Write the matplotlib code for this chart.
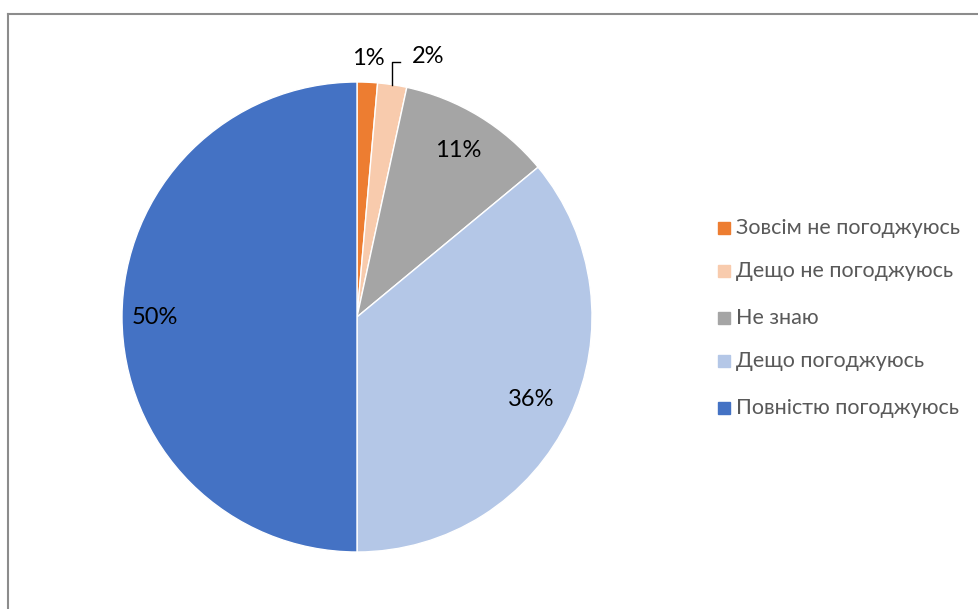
import numpy as np
import matplotlib
matplotlib.use("Agg")
import matplotlib.pyplot as plt
from matplotlib.patches import Rectangle
from matplotlib.lines import Line2D

categories = ["Зовсім не погоджуюсь", "Дещо не погоджуюсь", "Не знаю",
              "Дещо погоджуюсь", "Повністю погоджуюсь"]
shares = [1.4, 2.0, 10.6, 36.0, 50.0]
colors = ["#ED7D31", "#F8CBAD", "#A5A5A5", "#B4C7E7", "#4472C4"]

plt.rcParams["font.family"] = ["Lato", "DejaVu Sans"]

W, H = 979, 609
fig = plt.figure(figsize=(W / 100, H / 100), dpi=100)
ax = fig.add_axes([0, 0, 1, 1])

cx, cy, R = 357, H - 317, 235
wedges, _ = ax.pie(shares, colors=colors, startangle=90, counterclock=False,
                   center=(cx, cy), radius=R, frame=True,
                   wedgeprops=dict(edgecolor="white", linewidth=1.0))
ax.set_xlim(0, W)
ax.set_ylim(0, H)
ax.set_aspect("equal")
ax.axis("off")

# chart frame (top and left edges visible)
ax.add_line(Line2D([8, W], [H - 14, H - 14], color="#8c8c8c", lw=1.5))
ax.add_line(Line2D([8, 8], [H - 14, 0], color="#8c8c8c", lw=1.5))

# percentage labels
label_r = [1.10, None, 0.83, 0.82, 0.86]
total = sum(shares)
cum = 0
for i, (v, w) in enumerate(zip(shares, wedges)):
    mid = (cum + v / 2) / total
    cum += v
    ang = np.deg2rad(90 - 360 * mid)
    txt = f"{round(v / total * 100):d}%"
    if label_r[i] is None:
        # leader line from the arc up to an outside label
        px, py = cx + R * np.cos(ang), cy + R * np.sin(ang)
        ty = H - 62
        ax.add_line(Line2D([px, px, px + 8], [py, ty, ty], color="black", lw=1))
        ax.text(px + 20, ty + 6, txt, fontsize=17, ha="left", va="center")
    else:
        r = R * label_r[i]
        ax.text(cx + r * np.cos(ang), cy + r * np.sin(ang), txt,
                fontsize=17, ha="center", va="center")

# legend
leg_y = [228, 271, 318, 361, 408]
for name, c, y in zip(categories, colors, leg_y):
    ax.add_patch(Rectangle((718, H - y - 6), 12, 12, color=c))
    ax.text(736, H - y, name, fontsize=15.5, color="#595959",
            ha="left", va="center")

fig.savefig("out.png", dpi=100)
